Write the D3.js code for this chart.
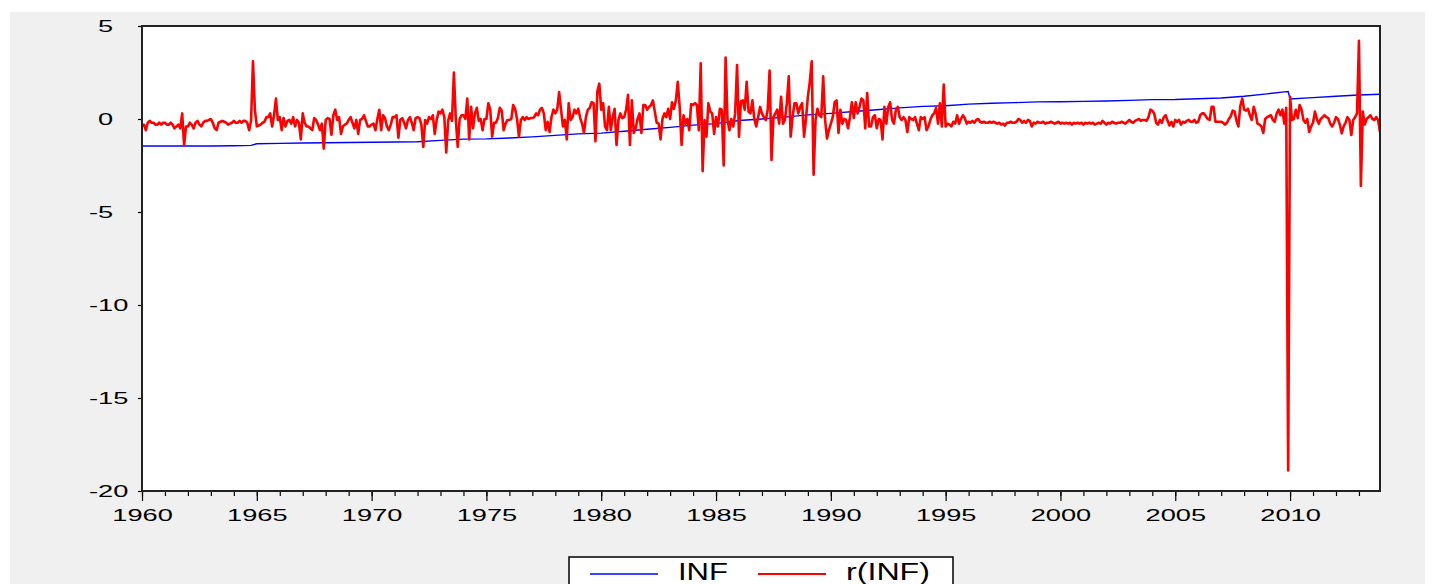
<!DOCTYPE html>
<html>
<head>
<meta charset="utf-8">
<script src="https://cdn.jsdelivr.net/npm/d3@7"></script>
<style>
  body { margin: 0; background: #fff; }
  text { font-family: "Liberation Sans", Arial, sans-serif; fill: #000; }
</style>
</head>
<body>
<svg id="chart" width="1433" height="584"></svg>
<script>
// monthly series, 1960M01 .. 2013M12 (one row per year)
const startYear = 1960;
const rInf = [
  -0.4,-0.3,-0.6,-0.2,-0.1,-0.2,-0.2,-0.3,-0.3,-0.2,-0.3,-0.2,        // 1960
  -0.2,-0.3,-0.3,-0.2,-0.3,-0.5,-0.4,-0.3,-0.5,0.3,-1.4,-0.4,         // 1961
  -0.4,-0.2,-0.3,-0.5,-0.2,-0.1,-0.3,-0.4,-0.2,-0.1,-0.1,-0.05,       // 1962
  0.0,-0.2,-0.5,-0.6,-0.2,-0.15,-0.1,-0.15,-0.2,-0.3,-0.25,-0.2,      // 1963
  -0.1,-0.2,-0.2,-0.1,-0.2,-0.1,-0.1,-0.2,-0.6,-0.1,3.1,0.5,          // 1964
  -0.4,-0.35,-0.3,-0.2,-0.15,0.1,0.1,0.3,-0.4,0.2,1.1,-0.05,          // 1965
  0.1,-0.6,0.05,-0.4,-0.1,-0.05,-0.25,0.1,-0.4,-0.05,-0.2,-1.1,       // 1966
  0.3,-0.2,-0.4,-0.4,-0.5,-0.6,0.05,-0.05,-0.3,-0.6,-0.25,-1.6,       // 1967
  -0.05,0.05,0.0,-0.85,0.2,0.5,-0.05,0.1,-0.8,-0.4,-0.3,-0.25,        // 1968
  -0.05,0.1,-0.2,-0.5,-0.05,-0.8,-0.05,0.0,0.2,-0.1,-0.4,-0.4,        // 1969
  -0.3,-0.25,-0.6,0.0,0.5,-0.6,0.2,0.05,-0.4,-0.6,-0.3,0.1,           // 1970
  0.1,0.2,-1.0,-0.05,0.05,-0.2,-0.5,-0.05,0.1,-0.2,-0.6,0.05,         // 1971
  0.1,0.05,-0.3,-1.5,-0.05,-0.25,0.1,0.0,0.2,-0.8,-0.05,0.4,          // 1972
  0.3,0.5,0.1,-1.8,-0.1,0.3,-0.1,2.5,0.0,-1.5,0.0,0.2,                // 1973
  0.2,0.0,1.1,-1.1,0.65,-0.5,0.3,0.6,-0.1,0.0,-0.6,0.0,               // 1974
  0.0,0.85,0.5,-0.95,-0.2,-0.2,0.05,0.6,0.45,-0.6,-0.25,-0.05,        // 1975
  -0.05,0.0,0.75,0.55,0.0,-0.95,-0.05,0.1,-0.05,0.1,0.0,0.05,         // 1976
  0.05,0.1,0.3,0.2,0.5,0.6,0.3,-0.6,-0.15,-0.7,0.1,0.5,               // 1977
  0.3,0.5,1.45,0.5,-0.4,-0.05,-1.1,0.85,-0.05,0.1,0.5,0.3,            // 1978
  0.55,0.05,-0.25,-0.75,0.1,0.5,0.6,0.9,0.85,-1.2,1.5,1.9,            // 1979
  0.5,0.85,-0.4,-0.6,0.65,-0.6,0.1,0.55,-1.4,-0.05,0.3,0.05,          // 1980
  0.1,0.5,1.3,-1.4,1.0,-0.75,-0.5,0.0,0.3,-0.75,0.75,0.75,            // 1981
  0.5,0.65,0.75,1.0,0.4,-0.2,-0.25,-1.1,0.0,0.3,0.1,0.55,             // 1982
  0.0,0.9,0.55,1.0,2.0,0.65,-1.4,0.2,-0.25,0.0,-0.6,0.8,              // 1983
  0.75,0.85,0.75,-0.6,3.0,-2.8,-0.05,-0.95,0.85,0.4,0.3,-0.8,         // 1984
  0.1,-0.4,0.55,0.5,-2.5,3.3,-0.05,-0.6,0.0,-0.4,0.3,2.9,             // 1985
  -0.95,0.95,1.0,0.5,2.0,0.4,0.3,1.0,0.0,-0.4,0.1,0.65,               // 1986
  0.3,0.1,-0.05,0.5,2.6,-2.2,0.1,0.3,0.5,-0.25,1.2,-0.25,             // 1987
  -0.05,0.85,2.3,-0.95,0.1,0.85,0.85,0.3,0.65,0.85,-0.95,0.0,         // 1988
  1.2,2.0,3.1,-3.0,-0.05,0.55,0.2,0.1,2.3,-0.05,-1.05,-0.6,           // 1989
  -0.25,0.1,0.9,1.0,-0.75,0.5,-0.25,0.0,-0.05,-0.5,0.1,0.9,           // 1990
  0.05,0.9,0.3,0.65,1.1,1.0,-0.5,1.4,-0.4,-0.4,0.1,0.2,               // 1991
  -0.5,0.0,-0.05,-1.1,0.65,-0.25,0.65,0.9,-0.05,-0.25,0.5,0.65,       // 1992
  0.1,-0.05,0.1,-0.05,-0.7,0.1,0.0,-0.05,0.1,-0.25,-0.6,0.1,          // 1993
  0.0,0.1,-0.6,-0.4,-0.05,0.2,0.3,0.6,-0.25,0.85,-0.4,1.85,           // 1994
  -0.4,-0.25,-0.3,-0.4,-0.15,-0.25,0.2,-0.25,0.0,0.2,0.05,-0.25,      // 1995
  -0.15,-0.2,-0.1,-0.2,-0.05,0.0,-0.15,-0.2,-0.15,-0.2,-0.2,-0.15,    // 1996
  -0.2,-0.15,-0.2,-0.25,-0.2,-0.3,-0.25,-0.35,-0.2,-0.2,-0.15,-0.2,   // 1997
  -0.2,-0.15,0.0,-0.05,-0.2,-0.1,-0.2,-0.05,-0.1,-0.4,-0.2,-0.25,     // 1998
  -0.15,-0.2,-0.2,-0.15,-0.25,-0.2,-0.2,-0.15,-0.2,-0.25,-0.2,-0.15,  // 1999
  -0.25,-0.2,-0.25,-0.2,-0.25,-0.2,-0.3,-0.2,-0.25,-0.2,-0.25,-0.2,   // 2000
  -0.3,-0.2,-0.25,-0.2,-0.25,-0.2,-0.3,-0.25,-0.2,-0.25,-0.1,-0.2,    // 2001
  -0.3,-0.2,-0.25,-0.15,-0.2,-0.25,-0.2,-0.2,-0.15,-0.2,-0.25,-0.15,  // 2002
  -0.05,-0.15,-0.2,-0.1,-0.05,0.0,-0.1,-0.05,-0.05,-0.1,0.1,0.5,      // 2003
  0.45,0.3,-0.2,-0.3,-0.05,-0.2,0.1,0.2,-0.1,-0.35,-0.15,-0.4,        // 2004
  -0.05,-0.15,-0.05,-0.3,-0.15,-0.2,-0.1,-0.05,-0.15,-0.15,-0.05,-0.2,// 2005
  -0.15,0.2,0.3,0.3,0.15,0.0,-0.05,0.65,0.65,-0.15,-0.15,-0.15,       // 2006
  -0.15,-0.2,-0.3,-0.2,0.0,0.15,0.45,0.4,-0.1,-0.4,0.7,1.1,           // 2007
  0.5,0.45,0.55,0.2,-0.05,0.65,0.3,-0.25,-0.3,-0.4,-0.75,0.0,         // 2008
  0.1,0.15,0.2,-0.05,-0.15,0.3,0.5,0.2,0.5,-0.25,0.6,-18.9,           // 2009
  1.2,-0.05,0.0,0.5,0.05,0.75,0.5,-0.05,-0.2,0.0,-0.7,-0.4,           // 2010
  -0.2,0.4,0.0,-0.25,0.0,0.1,0.2,0.1,0.05,-0.25,-0.4,-0.2,            // 2011
  0.1,0.0,-0.3,-0.77,-0.4,-0.2,0.1,-0.05,-0.86,-0.05,0.1,0.3,         // 2012
  4.2,-3.6,0.4,-0.3,0.0,0.1,0.2,0.0,-0.05,0.1,-0.05,-0.7              // 2013
];

// INF, read at the start of each year (plus the 2009/2010 break and the last month)
const infYears = [1960,1961,1962,1963,1964,1964.75,1965,1966,1967,1968,1969,
  1970,1971,1972,1973,1974,1975,1976,1977,1978,1979,
  1980,1981,1982,1983,1984,1985,1986,1987,1988,1989,
  1990,1991,1992,1993,1994,1995,1996,1997,1998,1999,
  2000,2001,2002,2003,2004,2005,2006,2007,2008,2009,2009.75,2009.917,
  2010,2011,2012,2013,2013.917];
const infValues = [-1.45,-1.45,-1.45,-1.45,-1.44,-1.42,-1.33,-1.31,-1.29,-1.28,-1.26,
  -1.25,-1.24,-1.22,-1.15,-1.08,-1.07,-1.02,-0.96,-0.88,-0.8,
  -0.76,-0.66,-0.55,-0.45,-0.33,-0.25,-0.08,0.0,0.1,0.22,
  0.3,0.4,0.5,0.6,0.68,0.71,0.8,0.85,0.88,0.92,
  0.93,0.95,0.97,1.0,1.04,1.05,1.09,1.13,1.22,1.35,1.46,1.48,
  1.08,1.15,1.22,1.29,1.33];

const yTicks = [5, 0, -5, -10, -15, -20];
const xLabelYears = [1960,1965,1970,1975,1980,1985,1990,1995,2000,2005,2010];
const xMinorYears = d3.range(1960, 2014);
const seriesNames = ["INF", "r(INF)"];
const seriesColors = ["#0000ff", "#ff0000"];

const svg = d3.select("#chart");
const L = 142, R = 1380, T = 26, B = 491;
const endYear = startYear + (rInf.length - 1) / 12;

const x = d3.scaleLinear().domain([startYear, endYear]).range([L, R]);
const y = d3.scaleLinear().domain([-20, 5]).range([B, T]);

const K = 1.6; // horizontal stretch of the exported fonts

// stretch text horizontally like the original export
function stretch(sel, k) {
  sel.each(function () {
    const w = this.getComputedTextLength();
    d3.select(this).attr("textLength", w * k).attr("lengthAdjust", "spacingAndGlyphs");
  });
}

// grey panel
svg.append("rect").attr("x", 10).attr("y", 12).attr("width", 1415).attr("height", 584)
  .attr("fill", "#f0f0f0");

// plot area
svg.append("rect").attr("x", L).attr("y", T).attr("width", R - L).attr("height", B - T)
  .attr("fill", "#fff");

svg.append("clipPath").attr("id", "clip").append("rect")
  .attr("x", L).attr("y", T).attr("width", R - L).attr("height", B - T);

const g = svg.append("g").attr("clip-path", "url(#clip)");

const redPts = rInf.map((v, i) => [startYear + i / 12, v]);
const bluePts = infYears.map((yr, i) => [yr, infValues[i]]);
const line = d3.line().x(d => x(d[0])).y(d => y(d[1]));

g.append("path").datum(bluePts).attr("d", line)
  .attr("fill", "none").attr("stroke", seriesColors[0]).attr("stroke-width", 1.4);
g.append("path").datum(redPts).attr("d", line)
  .attr("fill", "none").attr("stroke", seriesColors[1]).attr("stroke-width", 2.6)
  .attr("stroke-linejoin", "round");

// x axis
const xMinor = svg.append("g").attr("transform", `translate(0,${B})`)
  .call(d3.axisBottom(x).tickValues(xMinorYears).tickSize(5).tickFormat(""));
xMinor.select(".domain").remove();
xMinor.selectAll("line").attr("stroke", "#000").attr("stroke-width", 1.2);

const xAxis = svg.append("g").attr("transform", `translate(0,${B})`)
  .call(d3.axisBottom(x).tickValues(xLabelYears).tickSize(10).tickFormat(d => String(d)));
xAxis.select(".domain").remove();
xAxis.selectAll("line").attr("stroke", "#000").attr("stroke-width", 1.2);
xAxis.selectAll("text").attr("y", 0).attr("dy", 30).attr("font-size", 17)
  .style("font-family", "'Liberation Sans', Arial, sans-serif");
stretch(xAxis.selectAll("text"), K);

// y axis: digits start in one column, the minus sign hangs to the left
const yAxis = svg.append("g").attr("transform", `translate(${L},0)`)
  .call(d3.axisLeft(y).tickValues(yTicks).tickSize(4).tickFormat(d => String(d)));
yAxis.select(".domain").remove();
yAxis.selectAll("line").attr("stroke", "#000").attr("stroke-width", 1.2);
const digitCol = 98 - L;
const minusW = 0.333 * 17 * K;
yAxis.selectAll("text").attr("font-size", 17)
  .style("font-family", "'Liberation Sans', Arial, sans-serif")
  .attr("text-anchor", "start")
  .attr("x", d => digitCol - (d < 0 ? minusW : 0));
stretch(yAxis.selectAll("text"), K);

// frame
svg.append("rect").attr("x", L).attr("y", T).attr("width", R - L).attr("height", B - T)
  .attr("fill", "none").attr("stroke", "#222").attr("stroke-width", 2);

// legend
const lg = svg.append("g");
lg.append("rect").attr("x", 569).attr("y", 557).attr("width", 384).attr("height", 45)
  .attr("fill", "#fff").attr("stroke", "#000").attr("stroke-width", 1.5);
const legendItems = [
  { name: seriesNames[0], color: seriesColors[0], x0: 590, tx: 678, w: 50, sw: 1.4 },
  { name: seriesNames[1], color: seriesColors[1], x0: 758, tx: 846, w: 84, sw: 1.8 }
];
legendItems.forEach(d => {
  lg.append("line").attr("x1", d.x0).attr("x2", d.x0 + 68).attr("y1", 574).attr("y2", 574)
    .attr("stroke", d.color).attr("stroke-width", d.sw);
  lg.append("text").attr("x", d.tx).attr("y", 580).attr("font-size", 23)
    .attr("textLength", d.w).attr("lengthAdjust", "spacingAndGlyphs").text(d.name);
});
</script>
</body>
</html>
